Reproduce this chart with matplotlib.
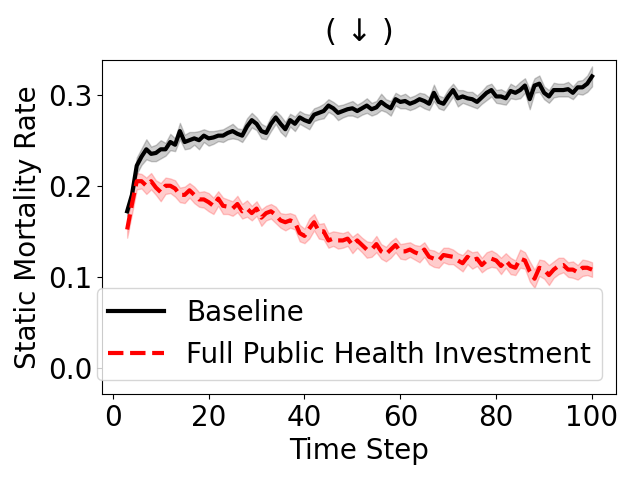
import matplotlib.pyplot as plt
import numpy as np

steps = list(range(3, 101))

baseline = [0.172, 0.19, 0.222, 0.232, 0.24, 0.235, 0.236, 0.24, 0.24, 0.248,
            0.245, 0.26, 0.248, 0.25, 0.252, 0.25, 0.255, 0.252, 0.253, 0.255,
            0.255, 0.258, 0.26, 0.257, 0.255, 0.265, 0.272, 0.268, 0.26, 0.258,
            0.268, 0.275, 0.268, 0.262, 0.272, 0.268, 0.275, 0.272, 0.27, 0.278,
            0.28, 0.282, 0.288, 0.285, 0.28, 0.282, 0.284, 0.285, 0.282, 0.285,
            0.288, 0.284, 0.286, 0.292, 0.288, 0.285, 0.295, 0.292, 0.293, 0.29,
            0.292, 0.295, 0.293, 0.29, 0.302, 0.292, 0.29, 0.298, 0.305, 0.296,
            0.298, 0.296, 0.295, 0.292, 0.297, 0.302, 0.305, 0.298, 0.298, 0.296,
            0.304, 0.302, 0.305, 0.31, 0.295, 0.31, 0.312, 0.302, 0.298, 0.305,
            0.305, 0.305, 0.306, 0.302, 0.308, 0.308, 0.312, 0.32]
baseline_err = [0.005, 0.007, 0.009, 0.009, 0.011, 0.008, 0.009, 0.01, 0.007, 0.009,
                0.007, 0.009, 0.008, 0.009, 0.007, 0.01, 0.007, 0.008, 0.007, 0.006,
                0.007, 0.007, 0.008, 0.006, 0.007, 0.009, 0.008, 0.007, 0.008, 0.007,
                0.008, 0.007, 0.009, 0.008, 0.007, 0.008, 0.007, 0.007, 0.008, 0.007,
                0.007, 0.008, 0.007, 0.007, 0.008, 0.007, 0.007, 0.008, 0.007, 0.007,
                0.008, 0.007, 0.007, 0.009, 0.007, 0.008, 0.007, 0.007, 0.008, 0.007,
                0.007, 0.007, 0.008, 0.007, 0.009, 0.007, 0.007, 0.008, 0.007, 0.009,
                0.007, 0.007, 0.008, 0.007, 0.007, 0.008, 0.007, 0.007, 0.008, 0.007,
                0.008, 0.007, 0.009, 0.008, 0.011, 0.008, 0.009, 0.007, 0.007, 0.008,
                0.007, 0.007, 0.008, 0.007, 0.007, 0.008, 0.009, 0.011]

full_invest = [0.152, 0.18, 0.205, 0.205, 0.2, 0.205, 0.198, 0.193, 0.2, 0.2,
               0.197, 0.19, 0.19, 0.195, 0.19, 0.185, 0.185, 0.182, 0.178, 0.186,
               0.178, 0.177, 0.175, 0.18, 0.172, 0.175, 0.17, 0.175, 0.165, 0.17,
               0.172, 0.168, 0.162, 0.16, 0.162, 0.16, 0.148, 0.145, 0.153, 0.16,
               0.15, 0.15, 0.14, 0.142, 0.14, 0.14, 0.142, 0.135, 0.14, 0.135,
               0.13, 0.13, 0.136, 0.128, 0.125, 0.13, 0.135, 0.128, 0.128, 0.13,
               0.127, 0.125, 0.13, 0.122, 0.12, 0.118, 0.124, 0.123, 0.122, 0.118,
               0.115, 0.122, 0.118, 0.12, 0.113, 0.118, 0.12, 0.118, 0.112, 0.118,
               0.112, 0.11, 0.12, 0.118, 0.106, 0.098, 0.11, 0.108, 0.102, 0.108,
               0.112, 0.113, 0.108, 0.108, 0.105, 0.11, 0.11, 0.108]
full_invest_err = [0.009, 0.011, 0.009, 0.008, 0.009, 0.009, 0.008, 0.01, 0.009, 0.008,
                   0.009, 0.008, 0.009, 0.008, 0.009, 0.008, 0.009, 0.01, 0.009, 0.008,
                   0.009, 0.008, 0.008, 0.009, 0.008, 0.009, 0.008, 0.008, 0.009, 0.008,
                   0.008, 0.009, 0.008, 0.009, 0.008, 0.008, 0.009, 0.008, 0.011, 0.009,
                   0.008, 0.009, 0.008, 0.008, 0.009, 0.008, 0.008, 0.009, 0.008, 0.008,
                   0.009, 0.008, 0.009, 0.008, 0.008, 0.009, 0.008, 0.008, 0.009, 0.008,
                   0.008, 0.009, 0.008, 0.008, 0.009, 0.008, 0.008, 0.009, 0.008, 0.008,
                   0.009, 0.008, 0.009, 0.008, 0.008, 0.009, 0.009, 0.008, 0.009, 0.008,
                   0.009, 0.008, 0.01, 0.009, 0.011, 0.01, 0.009, 0.01, 0.011, 0.009,
                   0.009, 0.008, 0.008, 0.009, 0.008, 0.009, 0.008, 0.008]

b = np.array(baseline)
be = np.array(baseline_err)
f = np.array(full_invest)
fe = np.array(full_invest_err)

plt.rcParams['font.size'] = 20
fig, ax = plt.subplots(figsize=(6.4, 4.8), dpi=100)
fig.subplots_adjust(left=0.159, right=0.9625, bottom=0.179, top=0.875)

ax.plot(steps, b, color='black', lw=3, label='Baseline')
ax.fill_between(steps, b - be, b + be, color='black', alpha=0.2)
ax.plot(steps, f, color='red', lw=3, ls='--', label='Full Public Health Investment')
ax.fill_between(steps, f - fe, f + fe, color='red', alpha=0.2)

ax.set_xlim(-2.3, 105)
ax.set_ylim(-0.0286, 0.338)
ax.set_xticks([0, 20, 40, 60, 80, 100])
ax.set_yticks([0.0, 0.1, 0.2, 0.3])
ax.set_xlabel('Time Step')
ax.set_ylabel('Static Mortality Rate')
ax.set_title('( ↓ )', fontsize=22, pad=14)
ax.legend(loc='lower right', fontsize=20)

plt.savefig('out.png')
